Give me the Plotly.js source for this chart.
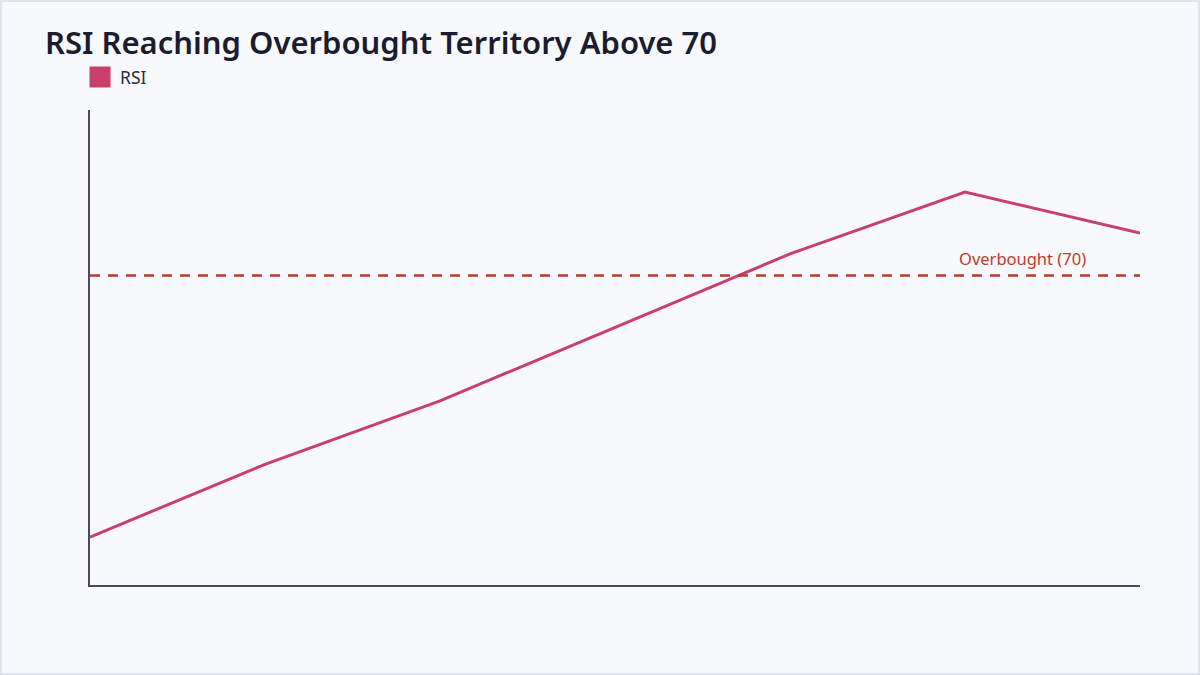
<!DOCTYPE html>
<html>
<head>
<meta charset="utf-8">
<script src="https://cdn.plot.ly/plotly-3.0.1.min.js"></script>
<style>
  html, body { margin: 0; padding: 0; background: #f8f9fd; }
  #chart { width: 1200px; height: 675px; box-sizing: border-box; border: 2px solid #dfe4ec; }
</style>
</head>
<body>
<div id="chart"></div>
<script>
const periods = ["P1", "P2", "P3", "P4", "P5", "P6", "P7"];
const rsi = [36.2, 45.6, 53.8, 63.3, 72.8, 80.8, 75.5];
const OVERBOUGHT = 70;
const Y_RANGE = [30, 91.4];

const LINE_COLOR = "#c9406c";
const LEVEL_COLOR = "#c0392b";
const AXIS_COLOR = "#4a4868";
const FONT = "Noto Sans, Open Sans, sans-serif";

var data = [
	{
		type: "scatter",
		x: periods,
		y: rsi,
		mode: "lines",
		name: "RSI",
		legendgroup: "rsi",
		showlegend: false,
		line: { color: LINE_COLOR, width: 3 },
		hoverinfo: "y",
	},
	// legend swatch only
	{
		type: "scatter",
		x: [null],
		y: [null],
		mode: "markers",
		name: "RSI",
		legendgroup: "rsi",
		marker: { symbol: "square", size: 16, color: LINE_COLOR, line: { color: LINE_COLOR, width: 5 } },
	},
];

var layout = {
	width: 1196,
	height: 671,
	margin: { l: 88, r: 58, t: 108, b: 88 },
	paper_bgcolor: "#f8f9fd",
	plot_bgcolor: "#f8f9fd",
	font: { family: FONT, color: "#2b2b40", size: 16 },
	title: {
		text: "RSI Reaching Overbought Territory Above 70",
		font: { family: FONT, size: 31, color: "#1c1c30", weight: 600 },
		xref: "container",
		yref: "container",
		x: 43 / 1196,
		xanchor: "left",
		y: 1 - 41 / 671,
		yanchor: "middle",
	},
	showlegend: true,
	legend: {
		orientation: "h",
		xref: "container",
		yref: "container",
		x: 78 / 1196,
		xanchor: "left",
		y: 1 - 75 / 671,
		yanchor: "middle",
		bgcolor: "rgba(0,0,0,0)",
		font: { family: FONT, size: 17.5, color: "#2b2b40" },
	},
	xaxis: {
		showgrid: false,
		zeroline: false,
		showticklabels: false,
		ticks: "",
		showline: true,
		linecolor: AXIS_COLOR,
		linewidth: 2,
		range: [0, periods.length - 1],
	},
	yaxis: {
		showgrid: false,
		zeroline: false,
		showticklabels: false,
		ticks: "",
		showline: true,
		linecolor: AXIS_COLOR,
		linewidth: 2,
		range: Y_RANGE,
	},
	shapes: [
		{
			type: "line",
			xref: "paper",
			yref: "y",
			x0: 0,
			x1: 1,
			y0: OVERBOUGHT,
			y1: OVERBOUGHT,
			line: { color: LEVEL_COLOR, width: 2.5, dash: "10px,8px" },
		},
	],
	annotations: [
		{
			xref: "paper",
			yref: "y",
			x: 0.95,
			y: OVERBOUGHT,
			xanchor: "right",
			yanchor: "bottom",
			yshift: 4,
			showarrow: false,
			text: "Overbought (" + OVERBOUGHT + ")",
			font: { family: FONT, size: 16.5, color: LEVEL_COLOR },
		},
	],
};

Plotly.newPlot("chart", data, layout, { displayModeBar: false, staticPlot: true });
</script>
</body>
</html>
